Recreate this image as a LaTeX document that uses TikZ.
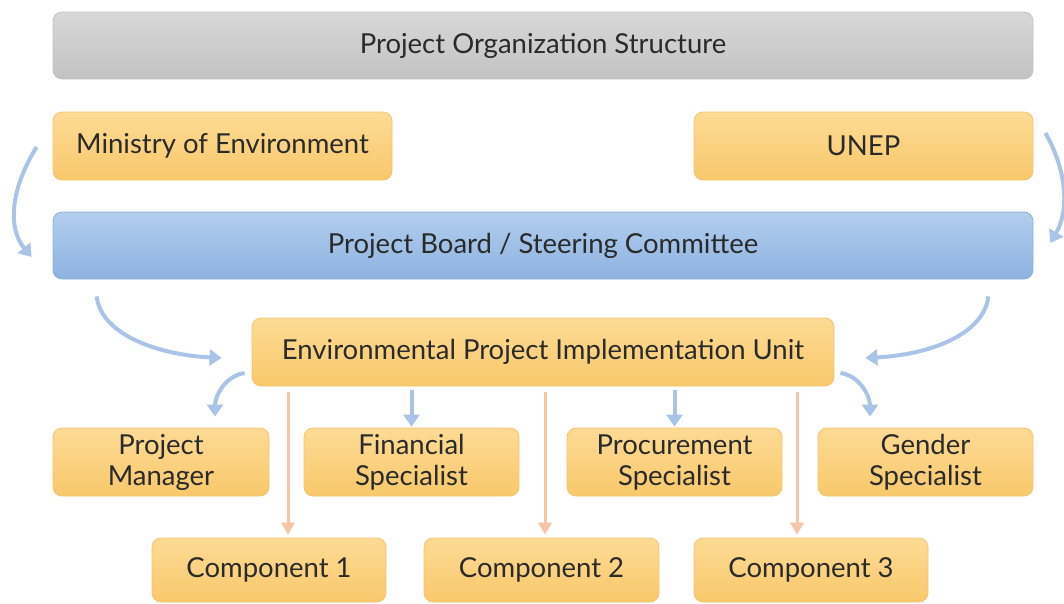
\documentclass[tikz,border=0pt]{standalone}
\usepackage{fontspec}
\setmainfont{Lato}
\usetikzlibrary{arrows.meta,calc}

\definecolor{boxtop}{HTML}{FDDB95}
\definecolor{boxbot}{HTML}{F8C86B}
\definecolor{boxline}{HTML}{F3C56E}
\definecolor{greytop}{HTML}{D8D8D8}
\definecolor{greybot}{HTML}{C2C2C2}
\definecolor{greyline}{HTML}{C4C4C4}
\definecolor{bluetop}{HTML}{B2CEEE}
\definecolor{bluebot}{HTML}{8DB2E0}
\definecolor{blueline}{HTML}{8EB0DB}
\definecolor{flowblue}{HTML}{A9C4E8}
\definecolor{flowsalmon}{HTML}{F6C4A6}
\definecolor{ink}{HTML}{2A2A2A}

\tikzset{
  box/.style={rounded corners=9pt, draw=boxline, line width=0.8pt,
    top color=boxtop, bottom color=boxbot, text=ink, align=center,
    font=\fontsize{27.5}{31}\selectfont, minimum height=68pt, inner sep=0pt},
  greybox/.style={box, draw=greyline, top color=greytop, bottom color=greybot},
  bluebox/.style={box, draw=blueline, top color=bluetop, bottom color=bluebot},
  flow/.style={line width=4pt, draw=flowblue, -{Triangle[width=16pt,length=12pt]}},
  branch/.style={line width=3pt, draw=flowsalmon, -{Triangle[width=13pt,length=12pt]}},
}

\begin{document}
\begin{tikzpicture}[x=1pt,y=-1pt]
  \useasboundingbox (0,0) rectangle (1064,603);

  \node[greybox, minimum width=980pt, minimum height=67pt] (title) at (543,45.5) {Project Organization Structure};
  \node[box, minimum width=339pt] (ministry) at (222.5,146) {Ministry of Environment};
  \node[box, minimum width=339pt] (unep) at (863.5,146) {UNEP};
  \node[bluebox, minimum width=980pt, minimum height=67pt] (board) at (543,245.5) {Project Board / Steering Committee};
  \node[box, minimum width=582pt] (epiu) at (543,352) {Environmental Project Implementation Unit};

  \node[box, minimum width=216pt] (pm) at (161,462) {Project\\Manager};
  \node[box, minimum width=215pt] (fin) at (411.5,462) {Financial\\Specialist};
  \node[box, minimum width=215pt] (proc) at (674.5,462) {Procurement\\Specialist};
  \node[box, minimum width=215pt] (gender) at (925.5,462) {Gender\\Specialist};

  \node[box, minimum width=234pt, minimum height=64pt] (comp1) at (269,570) {Component 1};
  \node[box, minimum width=235pt, minimum height=64pt] (comp2) at (541.5,570) {Component 2};
  \node[box, minimum width=234pt, minimum height=64pt] (comp3) at (811,570) {Component 3};

  \draw[flow] ($(ministry.west)+(-16,1)$) .. controls +(-25,40) and +(-25,-30) .. ($(board.west)+(-21,11.5)$);
  \draw[flow] ($(unep.east)+(12,-13)$) .. controls +(20,35) and +(20,-35) .. ($(board.east)+(17,-2.5)$);

  \draw[flow] ($(board.south west)+(44,17)$) .. controls +(5,40) and +(-60,-3) .. ($(epiu.west)+(-30,6)$);
  \draw[flow] ($(board.south east)+(-45,17)$) .. controls +(-5,40) and +(60,-3) .. ($(epiu.east)+(31,6)$);

  \draw[flow] ($(epiu.west)+(-7,21)$) .. controls +(-20,3) and +(0,-20) .. ($(pm.north)+(54,-11)$);
  \draw[flow, shorten <=4pt, shorten >=1pt] (epiu.south -| fin.north) -- (fin.north);
  \draw[flow, shorten <=4pt, shorten >=1pt] (epiu.south -| proc.north) -- (proc.north);
  \draw[flow] ($(epiu.east)+(6,21)$) .. controls +(20,3) and +(0,-20) .. ($(gender.north)+(-55.5,-11)$);

  \draw[branch] ($(epiu.south)+(-255,6)$) -- ($(comp1.north)+(19,-3)$);
  \draw[branch] ($(epiu.south)+(2,6)$) -- ($(comp2.north)+(3.5,-3)$);
  \draw[branch] ($(epiu.south)+(254,6)$) -- ($(comp3.north)+(-14,-3)$);
\end{tikzpicture}
\end{document}
